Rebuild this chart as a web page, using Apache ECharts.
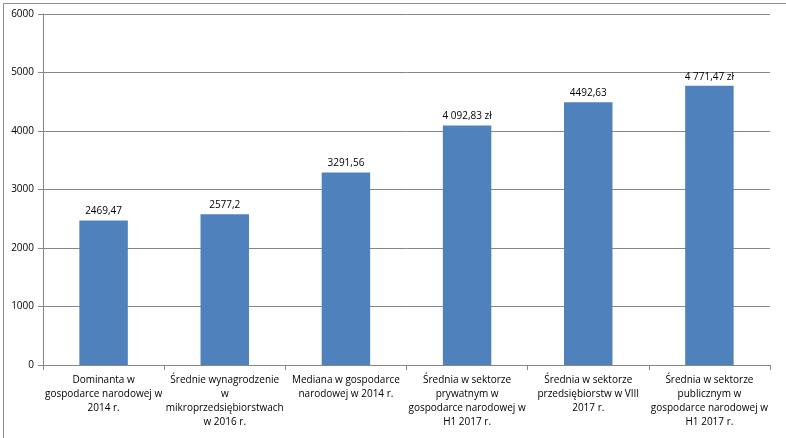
<!DOCTYPE html>
<html><head><meta charset="utf-8">
<script src="https://cdn.jsdelivr.net/npm/echarts@6/dist/echarts.min.js"></script>
<style>html,body{margin:0;padding:0;background:#fff}#c{width:786px;height:438px}</style>
</head><body><div id="c"></div>
<script>
const categories = [
  'Dominanta w\ngospodarce narodowej w\n2014 r.',
  'Średnie wynagrodzenie\nw\nmikroprzedsiębiorstwach\nw 2016 r.',
  'Mediana w gospodarce\nnarodowej w 2014 r.',
  'Średnia w sektorze\nprywatnym w\ngospodarce narodowej w\nH1 2017 r.',
  'Średnia w sektorze\nprzedsiębiorstw w VIII\n2017 r.',
  'Średnia w sektorze\npublicznym w\ngospodarce narodowej w\nH1 2017 r.'
];
const values = [2469.47, 2577.2, 3291.56, 4092.83, 4492.63, 4771.47];
const valueLabels = ['2469,47', '2577,2', '3291,56', '4 092,83 zł', '4492,63', '4 771,47 zł'];
const yTicks = [0, 1000, 2000, 3000, 4000, 5000, 6000];

const chart = echarts.init(document.getElementById('c'), null, {renderer: 'canvas'});
const font = 'Open Sans';
chart.setOption({
  animation: false,
  backgroundColor: '#fff',
  graphic: [{
    type: 'rect', left: 1, top: 1,
    shape: {width: 783, height: 435},
    style: {fill: 'none', stroke: '#8c8c8c', lineWidth: 1}
  }],
  grid: {left: 43, right: 16, top: 14, bottom: 73, containLabel: false},
  xAxis: {
    type: 'category',
    data: categories,
    axisLine: {lineStyle: {color: '#868686'}},
    axisTick: {show: true, alignWithLabel: false, length: 5, lineStyle: {color: '#868686'}},
    axisLabel: {interval: 0, color: '#000', fontFamily: font, fontSize: 10, lineHeight: 14, margin: 8}
  },
  yAxis: {
    type: 'value',
    min: yTicks[0], max: yTicks[yTicks.length - 1], interval: 1000,
    axisLine: {show: true, lineStyle: {color: '#868686'}},
    axisTick: {show: true, length: 5, lineStyle: {color: '#868686'}},
    splitLine: {lineStyle: {color: '#868686'}},
    axisLabel: {color: '#000', fontFamily: font, fontSize: 10, margin: 9, formatter: v => String(v)}
  },
  series: [{
    type: 'bar',
    data: values,
    barWidth: '40%',
    itemStyle: {color: '#4f81bd'},
    label: {
      show: true, position: 'top', distance: 4,
      color: '#000', fontFamily: font, fontSize: 10,
      formatter: p => valueLabels[p.dataIndex]
    }
  }]
});
</script></body></html>
